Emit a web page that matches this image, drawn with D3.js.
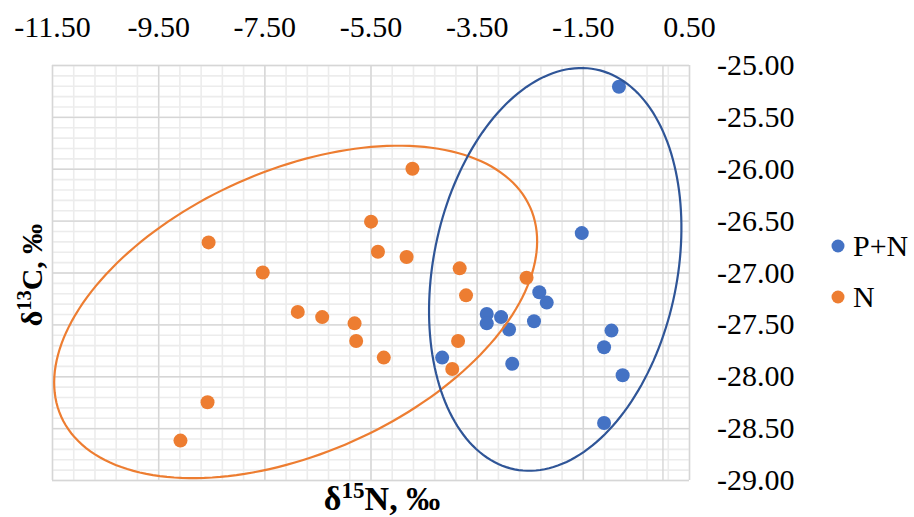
<!DOCTYPE html>
<html>
<head>
<meta charset="utf-8">
<script src="https://cdn.jsdelivr.net/npm/d3@7"></script>
<style>
  html, body { margin: 0; padding: 0; background: #fff; }
  svg { display: block; }
</style>
</head>
<body>
<svg id="chart" width="914" height="517"></svg>
<script>
// ---- data ----
const seriesNames = ["P+N", "N"];
const pnX = [-0.82, -1.52, -2.32, -2.18, -3.31, -3.31, -3.04, -2.89, -2.42, -0.96, -1.10, -0.75, -1.10, -4.15, -2.83];
const pnY = [-25.21, -26.62, -27.19, -27.29, -27.40, -27.49, -27.43, -27.55, -27.47, -27.56, -27.72, -27.99, -28.45, -27.82, -27.88];
const nX = [-8.55, -4.71, -5.49, -5.36, -4.82, -7.53, -6.87, -6.41, -5.80, -5.77, -8.57, -9.08, -3.82, -2.56, -3.70, -5.25, -3.85, -3.96];
const nY = [-26.71, -26.00, -26.51, -26.80, -26.85, -27.00, -27.38, -27.43, -27.49, -27.66, -28.25, -28.62, -26.96, -27.05, -27.22, -27.82, -27.66, -27.93];
// confidence ellipses in data units: centre, first half-axis vector, second half-axis vector
const pnEllipseCenter = [-2.02, -26.97];
const pnEllipseAxis1 = [0.767, 1.927];
const pnEllipseAxis2 = [2.250, -0.234];
const nEllipseCenter = [-6.91, -27.38];
const nEllipseAxis1 = [4.418, 1.008];
const nEllipseAxis2 = [1.085, -1.245];
const xTickValues = [-11.5, -9.5, -7.5, -5.5, -3.5, -1.5, 0.5];
const yTickValues = [-25, -25.5, -26, -26.5, -27, -27.5, -28, -28.5, -29];
const xTitle = ["δ", "15", "N, ‰"];
const yTitle = ["δ", "13", "C, ‰"];

// ---- layout ----
const pL = 52, pR = 689, pT = 65, pB = 480;
const colors = { "P+N": "#4472C4", "N": "#ED7D31" };
const ellipseColors = { "P+N": "#2F5597", "N": "#ED7D31" };
const svg = d3.select("#chart");

const x = d3.scaleLinear().domain([-11.5, 0.5]).range([pL, pR]);
const y = d3.scaleLinear().domain([-25, -29]).range([pT, pB]);

const minorX = d3.range(0, 31).map(i => -11.5 + i * 0.4);
const minorY = d3.range(0, 41).map(i => -25 - i * 0.1);

// minor gridlines
const gMinorX = svg.append("g").attr("transform", `translate(0,${pB})`)
  .call(d3.axisBottom(x).tickValues(minorX).tickSize(-(pB - pT)).tickFormat(""));
const gMinorY = svg.append("g").attr("transform", `translate(${pL},0)`)
  .call(d3.axisLeft(y).tickValues(minorY).tickSize(-(pR - pL)).tickFormat(""));
[gMinorX, gMinorY].forEach(g => {
  g.select(".domain").remove();
  g.selectAll("line").attr("stroke", "#ececec").attr("stroke-width", 1.6);
});

// major gridlines
const gMajorX = svg.append("g").attr("transform", `translate(0,${pB})`)
  .call(d3.axisBottom(x).tickValues(xTickValues.concat([0])).tickSize(-(pB - pT)).tickFormat(""));
const gMajorY = svg.append("g").attr("transform", `translate(${pL},0)`)
  .call(d3.axisLeft(y).tickValues(yTickValues).tickSize(-(pR - pL)).tickFormat(""));
[gMajorX, gMajorY].forEach(g => {
  g.select(".domain").remove();
  g.selectAll("line").attr("stroke", "#d6d6d6").attr("stroke-width", 1.4);
});

// tick labels
const fmt = d => d.toFixed(2);
const serif = "'Liberation Serif', 'Times New Roman', serif";
const gxLab = svg.append("g").attr("transform", "translate(0,37)")
  .call(d3.axisTop(x).tickValues(xTickValues).tickSize(0).tickPadding(0).tickFormat(fmt));
const gyLab = svg.append("g").attr("transform", "translate(717,0)")
  .call(d3.axisRight(y).tickValues(yTickValues).tickSize(0).tickPadding(0).tickFormat(fmt));
[gxLab, gyLab].forEach(g => {
  g.select(".domain").remove();
  g.attr("font-family", serif).attr("font-size", 30);
  g.selectAll("text").attr("fill", "#000");
});
gxLab.selectAll("text").attr("dy", "0");
gyLab.selectAll("text").attr("dy", "0.32em");

// points
function pts(xs, ys, name) { return xs.map((v, i) => ({ x: v, y: ys[i], s: name })); }
const data = pts(pnX, pnY, "P+N").concat(pts(nX, nY, "N"));
svg.append("g").selectAll("circle").data(data).join("circle")
  .attr("cx", d => x(d.x)).attr("cy", d => y(d.y)).attr("r", 7)
  .attr("fill", d => colors[d.s]);

// ellipses
const line = d3.line().x(d => x(d[0])).y(d => y(d[1])).curve(d3.curveLinearClosed);
function ellipse(c, a, b) {
  return d3.range(0, 180).map(i => {
    const t = i / 180 * 2 * Math.PI;
    return [c[0] + a[0] * Math.cos(t) + b[0] * Math.sin(t), c[1] + a[1] * Math.cos(t) + b[1] * Math.sin(t)];
  });
}
svg.append("path").attr("d", line(ellipse(nEllipseCenter, nEllipseAxis1, nEllipseAxis2)))
  .attr("fill", "none").attr("stroke", ellipseColors["N"]).attr("stroke-width", 2.2);
svg.append("path").attr("d", line(ellipse(pnEllipseCenter, pnEllipseAxis1, pnEllipseAxis2)))
  .attr("fill", "none").attr("stroke", ellipseColors["P+N"]).attr("stroke-width", 2.2);

// axis titles
function title(sel, parts, size) {
  sel.attr("font-family", serif).attr("font-weight", "bold").attr("font-size", size).attr("fill", "#000");
  sel.append("tspan").text(parts[0]);
  sel.append("tspan").attr("font-size", size * 0.68).attr("dy", -size * 0.36).text(parts[1]);
  sel.append("tspan").attr("dy", size * 0.36).text(parts[2]);
}
title(svg.append("text").attr("x", 382).attr("y", 510).attr("text-anchor", "middle"), xTitle, 34);
title(svg.append("text").attr("transform", "translate(42,275) rotate(-90)").attr("text-anchor", "middle"), yTitle, 30);

// legend
const legY = [246, 297];
const leg = svg.append("g");
seriesNames.forEach((s, i) => {
  leg.append("circle").attr("cx", 838).attr("cy", legY[i]).attr("r", 6.5).attr("fill", colors[s]);
  leg.append("text").attr("x", 853).attr("y", legY[i]).attr("dy", "0.33em")
    .attr("font-family", serif).attr("font-size", 30).attr("fill", "#000").text(s);
});
</script>
</body>
</html>
